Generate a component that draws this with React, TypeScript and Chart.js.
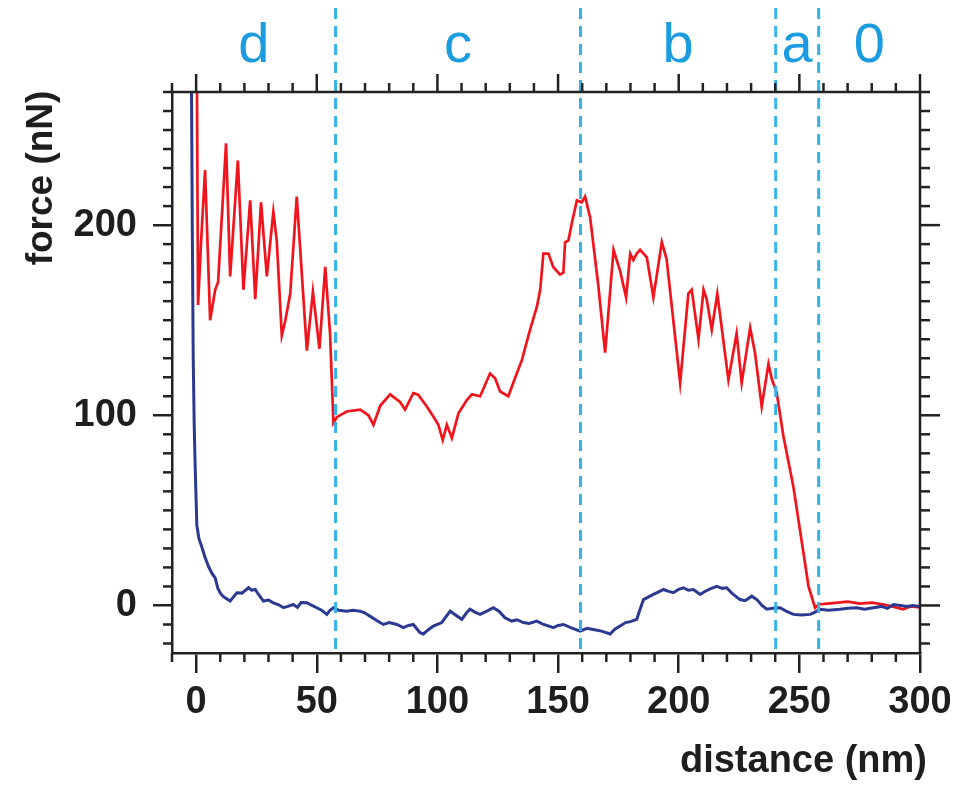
import React, { useEffect, useRef } from 'react';
import { Chart, registerables } from 'chart.js';

Chart.register(...registerables);

// ---- data (distance in nm, force in nN) ----
const redX = [0.3, 0.8, 2.0, 3.7, 5.8, 7.9, 9.1, 12.4, 14.1, 17.3, 19.6, 22.4, 24.5, 26.9, 29.3, 32.0, 33.4, 35.5, 37.0, 39.0, 41.7, 45.9, 48.4, 51.1, 53.5, 55.5, 56.9, 58.3, 62.4, 68.0, 71.4, 73.5, 76.3, 80.4, 84.5, 86.6, 90.0, 92.0, 95.6, 98.3, 100.4, 102.2, 103.9, 106.0, 108.7, 112.2, 114.3, 117.7, 121.8, 123.9, 126.0, 129.4, 132.2, 135.0, 138.4, 141.2, 142.6, 143.9, 146.0, 148.0, 150.8, 152.2, 152.9, 154.3, 155.7, 157.8, 159.8, 161.2, 163.3, 166.7, 169.5, 173.0, 175.7, 178.2, 179.9, 181.2, 182.6, 184.0, 186.8, 189.5, 193.0, 195.0, 200.6, 204.0, 205.4, 208.2, 210.3, 211.6, 213.7, 216.0, 220.6, 224.0, 226.1, 229.6, 231.6, 234.4, 237.2, 238.6, 240.6, 243.4, 247.5, 251.7, 253.8, 256.5, 258.0, 261.4, 266.0, 270.0, 275.0, 280.0, 285.0, 290.0, 293.0, 296.0, 300.0];
const redY = [285, 158, 190, 229, 150, 166, 170, 243, 173, 234, 166, 213, 161, 212, 173, 207, 192, 142, 150, 164, 215, 134, 165, 135, 178, 143, 96, 99, 102, 103, 100, 95, 105, 111, 107, 103, 111.6, 110.8, 104.6, 99.4, 95, 87, 95, 88, 101, 108, 111, 110, 122, 119.5, 112.5, 110, 119.7, 129, 145, 157, 166, 185, 185, 178, 174, 175, 191, 192, 201, 213, 212, 215, 204, 168, 133, 187, 176, 162, 185, 181.6, 185, 187, 183, 162, 191, 182, 117, 164, 166, 140, 166, 161, 145, 164, 118.6, 143, 117, 146, 133, 104.6, 127, 119, 112, 89, 62.6, 27.7, 10, -1.2, 0.5, 1, 1.5, 2, 1, 1.5, 0.5, -1, -2, -0.5, -1];

const blueX = [-2.0, -1.6, -1.2, -0.8, -0.4, 0.3, 1.2, 2.3, 3.5, 5.1, 6.5, 7.9, 9.0, 9.9, 11.0, 12.0, 14.1, 15.5, 16.9, 19.0, 21.7, 23.0, 24.5, 26.0, 27.9, 30.0, 32.0, 34.0, 36.2, 38.0, 40.3, 42.0, 43.5, 45.9, 48.0, 50.0, 52.0, 54.2, 55.5, 56.9, 59.0, 62.4, 65.0, 68.0, 70.0, 72.0, 75.0, 77.6, 80.0, 83.2, 85.9, 88.0, 90.0, 92.8, 94.2, 96.0, 98.3, 101.8, 103.5, 105.3, 107.5, 110.1, 112.0, 113.5, 115.5, 117.7, 120.5, 123.2, 125.5, 128.0, 130.8, 133.0, 135.6, 138.0, 141.2, 144.0, 148.1, 150.0, 152.2, 155.0, 159.1, 162.0, 164.6, 168.0, 171.6, 173.5, 175.7, 178.0, 180.0, 182.6, 184.0, 185.4, 187.5, 189.5, 191.5, 193.7, 195.5, 197.8, 200.0, 202.0, 204.0, 206.1, 208.9, 211.0, 213.5, 215.8, 218.0, 219.9, 222.0, 225.4, 227.5, 230.3, 232.5, 234.5, 236.5, 239.0, 242.0, 244.5, 247.5, 251.0, 254.5, 256.5, 258.6, 262.0, 266.9, 270.0, 273.8, 277.0, 280.7, 284.0, 286.5, 289.0, 292.0, 294.6, 297.0, 300.0];
const blueY = [290, 200, 130, 95, 73, 42, 35, 31, 26, 20.6, 17, 14.5, 9, 6.7, 5, 4, 2.3, 4.5, 6.7, 6.5, 9.3, 8, 8.4, 5.5, 2.3, 2.8, 1.4, 0.5, -1.2, -0.5, 0.5, -1, 1.5, 1.4, 0, -1.2, -2.5, -4.7, -2.5, -1.2, -2.5, -3, -2.5, -3, -4, -5.6, -8, -10, -9, -10, -11.7, -10.5, -10, -14.3, -15, -13, -10.8, -9, -6, -3, -5, -7.3, -4, -2, -3.5, -4.7, -3, -1.2, -3, -6.5, -8.2, -7.5, -9, -9.5, -8.2, -10, -11.7, -10.5, -10, -11.5, -13.5, -12, -12.6, -13.5, -15, -12.5, -10.8, -9, -8.5, -7.3, -2, 3.1, 4.5, 5.8, 7, 8.4, 7.5, 6.7, 8.5, 9.3, 8, 8.4, 5.8, 7.5, 9, 10, 9, 9.3, 6.5, 3.1, 2.5, 4.9, 3, 0, -2, -1.5, -1.2, -3, -4.7, -5, -4.7, -3.5, -2, -2.5, -2, -1.5, -1.2, -2, -1.2, -0.5, -1.5, 0.5, 0, -0.5, 0, -0.5];

const regionBounds = [57.8, 159.3, 240.2, 258.0];
const regionLabels = ['d', 'c', 'b', 'a', '0'];

const xTickValues = [0, 50, 100, 150, 200, 250, 300];
const yTickValues = [0, 100, 200];

const X_MIN = -10;
const X_MAX = 300;
const Y_MIN = -25;
const Y_MAX = 270;
const X_STEP = 50;
const Y_STEP = 100;
const X_MINOR = 10;
const Y_MINOR = 10;

const FONT = '"Liberation Sans", Arial, Helvetica, sans-serif';
const AXIS = '#222222';
const TEXT = '#1e1e1e';
const ACCENT = '#1b9be0';
const DASH = '#35b2e8';

const decorPlugin = {
  id: 'decor',
  afterDatasetsDraw(chart: any) {
    const { ctx, chartArea: ca, scales } = chart;
    const x = scales.x;
    const y = scales.y;
    ctx.save();

    // dashed region lines
    ctx.strokeStyle = DASH;
    ctx.lineWidth = 3;
    ctx.setLineDash([11, 7]);
    regionBounds.forEach((b) => {
      const px = x.getPixelForValue(b);
      ctx.beginPath();
      ctx.moveTo(px, 8);
      ctx.lineTo(px, ca.bottom);
      ctx.stroke();
    });
    ctx.setLineDash([]);

    // top and right frame
    ctx.strokeStyle = AXIS;
    ctx.lineWidth = 2.5;
    ctx.beginPath();
    ctx.moveTo(ca.left, ca.top);
    ctx.lineTo(ca.right, ca.top);
    ctx.lineTo(ca.right, ca.bottom);
    ctx.stroke();

    const seg = (x1: number, y1: number, x2: number, y2: number) => {
      ctx.beginPath();
      ctx.moveTo(x1, y1);
      ctx.lineTo(x2, y2);
      ctx.stroke();
    };

    for (let v = X_MIN; v <= X_MAX + 0.001; v += X_MINOR) {
      const px = x.getPixelForValue(v);
      const major = Math.abs(v % X_STEP) < 0.001;
      seg(px, ca.top, px, ca.top - (major ? 18 : 9));
      if (!major) seg(px, ca.bottom, px, ca.bottom + 9);
    }
    for (let v = -20; v <= Y_MAX + 0.001; v += Y_MINOR) {
      const py = y.getPixelForValue(v);
      const major = Math.abs(v % Y_STEP) < 0.001;
      seg(ca.right, py, ca.right + (major ? 20 : 10), py);
      if (!major) seg(ca.left, py, ca.left - 9, py);
    }

    // region labels
    const edges = [X_MIN, ...regionBounds, X_MAX];
    ctx.fillStyle = ACCENT;
    ctx.font = `56px ${FONT}`;
    ctx.textAlign = 'center';
    ctx.textBaseline = 'alphabetic';
    regionLabels.forEach((lab, i) => {
      const mid = (edges[i] + edges[i + 1]) / 2;
      ctx.fillText(lab, x.getPixelForValue(mid), 62);
    });

    // axis titles
    ctx.fillStyle = TEXT;
    ctx.font = `bold 38px ${FONT}`;
    ctx.textAlign = 'right';
    ctx.fillText('distance (nm)', 927, 772);

    ctx.save();
    ctx.translate(52, 178);
    ctx.rotate(-Math.PI / 2);
    ctx.textAlign = 'center';
    ctx.font = `bold 37px ${FONT}`;
    ctx.fillText('force (nN)', 0, 0);
    ctx.restore();

    ctx.restore();
  },
};

export default function App() {
  const canvasRef = useRef<HTMLCanvasElement | null>(null);

  useEffect(() => {
    if (!canvasRef.current) return;
    const red = redX.map((v, i) => ({ x: v, y: redY[i] }));
    const blue = blueX.map((v, i) => ({ x: v, y: blueY[i] }));
    const chart = new Chart(canvasRef.current, {
      type: 'line',
      data: {
        datasets: [
          {
            label: 'blue',
            data: blue,
            borderColor: '#2b3990',
            borderWidth: 3,
            pointRadius: 0,
            tension: 0,
            fill: false,
          },
          {
            label: 'red',
            data: red,
            borderColor: '#f2141c',
            borderWidth: 2.7,
            pointRadius: 0,
            tension: 0,
            fill: false,
          },
        ],
      },
      options: {
        responsive: false,
        animation: false,
        devicePixelRatio: 1,
        layout: { padding: { top: 92, right: 43, left: 0, bottom: 0 } },
        plugins: { legend: { display: false }, tooltip: { enabled: false } },
        scales: {
          x: {
            type: 'linear',
            min: X_MIN,
            max: X_MAX,
            afterBuildTicks: (s: any) => {
              s.ticks = xTickValues.map((v) => ({ value: v }));
            },
            afterFit: (s: any) => {
              s.height = 135;
            },
            ticks: {
              padding: 7,
              maxRotation: 0,
              autoSkip: false,
              color: TEXT,
              font: { family: FONT, size: 38, weight: 'bold' },
            },
            grid: {
              display: true,
              drawOnChartArea: false,
              drawTicks: true,
              tickLength: 20,
              color: AXIS,
              lineWidth: 2.5,
            },
            border: { display: true, color: AXIS, width: 2.5 },
          },
          y: {
            type: 'linear',
            min: Y_MIN,
            max: Y_MAX,
            afterBuildTicks: (s: any) => {
              s.ticks = yTickValues.map((v) => ({ value: v }));
            },
            afterFit: (s: any) => {
              s.width = 172;
            },
            ticks: {
              padding: 16,
              autoSkip: false,
              color: TEXT,
              font: { family: FONT, size: 38, weight: 'bold' },
            },
            grid: {
              display: true,
              drawOnChartArea: false,
              drawTicks: true,
              tickLength: 19,
              color: AXIS,
              lineWidth: 2.5,
            },
            border: { display: true, color: AXIS, width: 2.5 },
          },
        },
      } as any,
      plugins: [decorPlugin],
    });
    return () => chart.destroy();
  }, []);

  return (
    <div style={{ position: 'fixed', left: 0, top: 0, width: 963, height: 788, background: '#fff' }}>
      <canvas ref={canvasRef} width={963} height={788} style={{ width: 963, height: 788, display: 'block' }} />
    </div>
  );
}
